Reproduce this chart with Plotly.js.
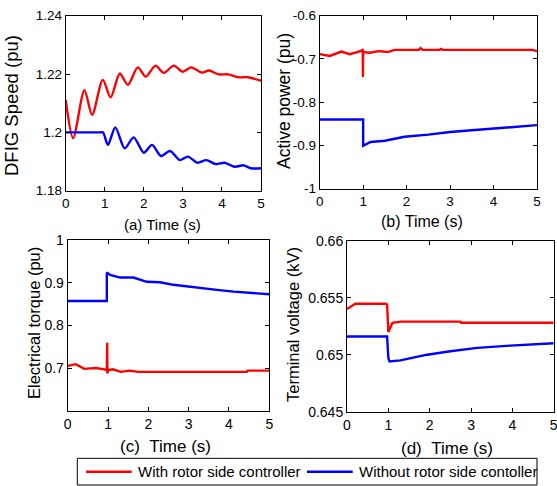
<!DOCTYPE html>
<html>
<head>
<meta charset="utf-8">
<script src="https://cdn.plot.ly/plotly-3.0.1.min.js"></script>
<style>html,body{margin:0;padding:0;background:#fff;}#chart{width:557px;height:486px;}</style>
</head>
<body>
<div id="chart"></div>
<script>
// ---------- data ----------
const seriesNames = ["With rotor side controller", "Without rotor side contoller"];
const seriesColors = ["#ff0000", "#0000ff"];

// (a) DFIG speed (pu)
const tSpeedWith = [0, 0.19, 0.48, 0.675, 0.95, 1.15, 1.385, 1.59, 1.846, 2.05, 2.30, 2.51, 2.77, 2.99, 3.22, 3.48, 3.67, 3.91, 4.16, 4.42, 4.67, 5.0];
const speedWith  = [1.2111, 1.198, 1.2145, 1.206, 1.218, 1.212, 1.2202, 1.2163, 1.2223, 1.2191, 1.2229, 1.2204, 1.2229, 1.2208, 1.2223, 1.2205, 1.2212, 1.2199, 1.2199, 1.2189, 1.2189, 1.2177];
const tSpeedWithout = [0, 0.9, 0.957, 1.08, 1.27, 1.51, 1.74, 2.0, 2.21, 2.44, 2.67, 2.92, 3.13, 3.37, 3.6, 3.84, 4.07, 4.32, 4.56, 4.74, 5.0];
const speedWithout  = [1.2, 1.2, 1.2, 1.1957, 1.2017, 1.1945, 1.1983, 1.193, 1.1957, 1.1919, 1.1936, 1.1905, 1.1917, 1.1896, 1.1905, 1.1891, 1.1896, 1.1882, 1.1887, 1.1877, 1.1877];

// (b) Active power (pu)
const tPowerWith = [0, 0.23, 0.5, 0.69, 0.84, 0.97, 0.99, 0.995, 1.0, 1.15, 1.35, 1.57, 1.72, 2.28, 2.32, 2.37, 2.76, 2.79, 2.83, 4.9, 5.0];
const powerWith  = [-0.689, -0.693, -0.683, -0.689, -0.685, -0.681, -0.677, -0.742, -0.684, -0.6855, -0.682, -0.684, -0.679, -0.679, -0.675, -0.679, -0.679, -0.677, -0.679, -0.679, -0.682];
const tPowerWithout = [0, 1.0, 1.0, 1.1, 1.17, 1.5, 1.95, 2.5, 3.0, 3.5, 4.0, 4.5, 5.0];
const powerWithout  = [-0.84, -0.84, -0.901, -0.895, -0.892, -0.889, -0.880, -0.875, -0.869, -0.865, -0.861, -0.857, -0.853];

// (c) Electrical torque (pu)
const tTorqueWith = [0, 0.2, 0.41, 0.7, 0.91, 0.97, 0.98, 0.985, 1.0, 1.12, 1.32, 1.53, 1.69, 1.75, 4.44, 4.46, 5.0];
const torqueWith  = [0.705, 0.709, 0.698, 0.700, 0.697, 0.695, 0.759, 0.687, 0.695, 0.697, 0.691, 0.694, 0.692, 0.691, 0.691, 0.694, 0.694];
const tTorqueWithout = [0, 0.97, 0.97, 1.05, 1.30, 1.63, 1.96, 2.29, 2.62, 2.95, 3.28, 3.70, 4.11, 4.6, 5.0];
const torqueWithout  = [0.857, 0.857, 0.924, 0.918, 0.912, 0.912, 0.902, 0.901, 0.895, 0.891, 0.887, 0.883, 0.879, 0.875, 0.873];

// (d) Terminal voltage (kV)
const tVoltWith = [0, 0.2, 0.93, 0.97, 1.0, 1.1, 1.3, 2.74, 2.76, 5.0];
const voltWith  = [0.654, 0.65447, 0.65447, 0.6544, 0.652, 0.6528, 0.6529, 0.6529, 0.6528, 0.6528];
const tVoltWithout = [0, 0.97, 1.0, 1.03, 1.29, 1.94, 2.5, 3.15, 3.95, 5.0];
const voltWithout  = [0.6516, 0.6516, 0.6497, 0.6494, 0.6495, 0.6500, 0.6503, 0.6506, 0.6508, 0.6510];

// ticks and labels
const timeTicks = [0, 1, 2, 3, 4, 5];
const timeTickText = ["0", "1", "2", "3", "4", "5"];
const speedTicks = [1.18, 1.2, 1.22, 1.24];
const speedTickText = ["1.18", "1.2", "1.22", "1.24"];
const powerTicks = [-1, -0.9, -0.8, -0.7, -0.6];
const powerTickText = ["-1", "-0.9", "-0.8", "-0.7", "-0.6"];
const torqueTicks = [0.7, 0.8, 0.9, 1];
const torqueTickText = ["0.7", "0.8", "0.9", "1"];
const voltTicks = [0.645, 0.65, 0.655, 0.66];
const voltTickText = ["0.645", "0.65", "0.655", "0.66"];

const yTitles = ["DFIG Speed (pu)", "Active power (pu)", "Electrical torque (pu)", "Terminal voltage (kV)"];
const xTitles = ["(a) Time (s)", "(b) Time (s)", "(c) \u00a0Time (s)", "(d) \u00a0Time (s)"];

// ---------- layout helpers ----------
const W = 557, H = 486;
const px = v => v / W;
const py = v => 1 - v / H;
const FONT = "Liberation Sans, Arial, Helvetica, sans-serif";

function line(x, y, color, xa, ya, name, shape) {
  return {type: "scatter", mode: "lines", x: x, y: y, xaxis: xa, yaxis: ya, name: name,
          line: {color: color, width: 2.4, shape: shape || "linear", smoothing: 0.8},
          showlegend: false, hoverinfo: "skip"};
}

const traces = [
  line(tSpeedWith, speedWith, seriesColors[0], "x", "y", seriesNames[0], "spline"),
  line(tSpeedWithout, speedWithout, seriesColors[1], "x", "y", seriesNames[1], "spline"),
  line(tPowerWith, powerWith, seriesColors[0], "x2", "y2", seriesNames[0]),
  line(tPowerWithout, powerWithout, seriesColors[1], "x2", "y2", seriesNames[1]),
  line(tTorqueWith, torqueWith, seriesColors[0], "x3", "y3", seriesNames[0]),
  line(tTorqueWithout, torqueWithout, seriesColors[1], "x3", "y3", seriesNames[1]),
  line(tVoltWith, voltWith, seriesColors[0], "x4", "y4", seriesNames[0]),
  line(tVoltWithout, voltWithout, seriesColors[1], "x4", "y4", seriesNames[1])
];

function axis(domain, range, tickvals, ticktext, anchor, size) {
  return {domain: domain, range: range, tickvals: tickvals, ticktext: ticktext, anchor: anchor,
          showline: true, linecolor: "#000", linewidth: 1, mirror: "ticks",
          ticks: "inside", ticklen: 4, tickcolor: "#000", tickwidth: 1,
          showgrid: false, zeroline: false, fixedrange: true,
          ticklabeloverflow: "allow",
          tickfont: {family: FONT, size: size || 13.5, color: "#000"}};
}

const layout = {
  width: W, height: H,
  margin: {l: 0, r: 0, t: 0, b: 0, pad: 0},
  paper_bgcolor: "#fff", plot_bgcolor: "#fff",
  showlegend: false,
  font: {family: FONT, color: "#000"},
  xaxis:  axis([px(65.7), px(261)], [0, 5], timeTicks, timeTickText, "y"),
  yaxis:  axis([py(190.7), py(15.7)], [1.18, 1.24], speedTicks, speedTickText, "x"),
  xaxis2: axis([px(319.7), px(537)], [0, 5], timeTicks, timeTickText, "y2"),
  yaxis2: axis([py(188.7), py(15.7)], [-1, -0.6], powerTicks, powerTickText, "x2"),
  xaxis3: axis([px(67.7), px(269.3)], [0, 5], timeTicks, timeTickText, "y3", 14),
  yaxis3: axis([py(410.7), py(240)], [0.6, 1], torqueTicks, torqueTickText, "x3", 14),
  xaxis4: axis([px(347), px(553.7)], [0, 5], timeTicks, timeTickText, "y4", 14),
  yaxis4: axis([py(411.7), py(240.7)], [0.645, 0.66], voltTicks, voltTickText, "x4", 14),
  shapes: [
    // legend box
    {type: "rect", xref: "paper", yref: "paper", x0: px(77.3), x1: px(537), y0: py(485), y1: py(458.3),
     line: {color: "#000", width: 1}, fillcolor: "#fff"},
    {type: "line", xref: "paper", yref: "paper", x0: px(86), x1: px(131.7), y0: py(471.7), y1: py(471.7),
     line: {color: seriesColors[0], width: 2.4}},
    {type: "line", xref: "paper", yref: "paper", x0: px(307), x1: px(352.7), y0: py(471.7), y1: py(471.7),
     line: {color: seriesColors[1], width: 2.4}}
  ],
  annotations: []
};

function ann(text, x, y, size, angle, xanchor) {
  return {text: text, xref: "paper", yref: "paper", x: px(x), y: py(y), showarrow: false,
          xanchor: xanchor || "center", yanchor: "middle", textangle: angle || 0,
          font: {family: FONT, size: size, color: "#000"}, borderpad: 0};
}
layout.annotations.push(ann(yTitles[0], 11, 106, 18.5, -90));
layout.annotations.push(ann(yTitles[1], 284, 101, 17.5, -90));
layout.annotations.push(ann(yTitles[2], 34, 323, 16.5, -90));
layout.annotations.push(ann(yTitles[3], 293, 325, 16.5, -90));
layout.annotations.push(ann(xTitles[0], 162, 224, 15));
layout.annotations.push(ann(xTitles[1], 422.3, 221.5, 16));
layout.annotations.push(ann(xTitles[2], 165.5, 446.5, 17));
layout.annotations.push(ann(xTitles[3], 447, 448, 17));
layout.annotations.push(ann(seriesNames[0], 136.5, 471.5, 15, 0, "left"));
layout.annotations.push(ann(seriesNames[1], 358, 471.5, 15, 0, "left"));

Plotly.newPlot("chart", traces, layout, {displayModeBar: false, staticPlot: true});
</script>
</body>
</html>
